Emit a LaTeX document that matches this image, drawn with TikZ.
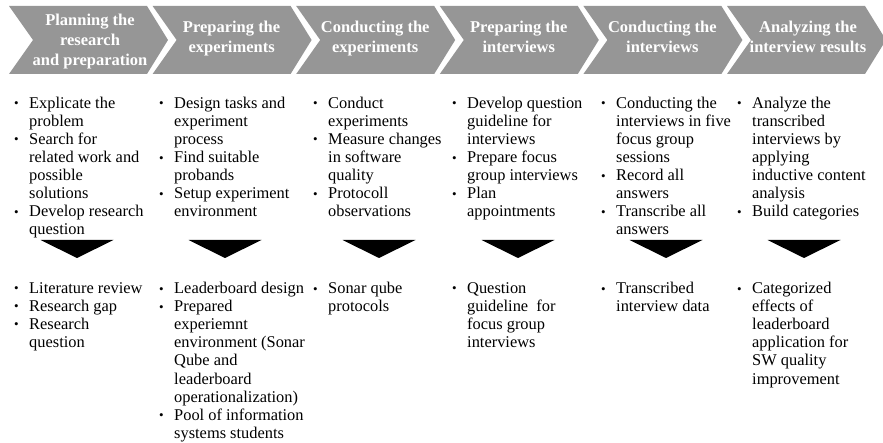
\documentclass[tikz,border=0pt]{standalone}
\usepackage{fontspec}
\setmainfont{Liberation Serif}
\definecolor{phasegray}{RGB}{150,150,150}
\newcommand{\bitem}{\llap{\raisebox{0.3pt}{\fontsize{13}{13}\selectfont\textbullet}\hspace{10.5pt}}}

\begin{document}
\begin{tikzpicture}[x=1pt,y=-1pt,
  phase/.style={text=white,font=\fontsize{16.5}{20}\selectfont\bfseries,align=center,anchor=north,inner sep=0pt},
  items/.style={font=\fontsize{16.4}{18.1}\selectfont,align=left,anchor=north west,inner sep=0pt}]
\useasboundingbox (0,0) rectangle (883,443);
\clip (0,0) rectangle (883,443);
% phase chevrons
\foreach \x in {9,152.6,296.2,439.8,583.4,727}
  \fill[phasegray] (\x,6) -- ++(138,0) -- ++(21,34) -- ++(-21,34) -- ++(-138,0) -- ++(24,-34) -- cycle;
% phase titles
\node[phase] (plan) at (90,13.8) {Planning the\\research\\and preparation};
\node[phase] (prepexp) at (231.6,21.3) {Preparing the\\experiments};
\node[phase] (condexp) at (375.2,21.3) {Conducting the\\experiments};
\node[phase] (prepint) at (518.8,21.3) {Preparing the\\interviews};
\node[phase] (condint) at (662.4,21.3) {Conducting the\\interviews};
\node[phase] (analyze) at (808,21.3) {Analyzing the\\interview results};
% activities
\node[items] (plantasks) at (29,96.5) {\bitem Explicate the\\problem\\\bitem Search for\\related work and\\possible\\solutions\\\bitem Develop research\\question};
\node[items] (prepexptasks) at (174,96.5) {\bitem Design tasks and\\experiment\\process\\\bitem Find suitable\\probands\\\bitem Setup experiment\\environment};
\node[items] (condexptasks) at (328,96.5) {\bitem Conduct\\experiments\\\bitem Measure changes\\in software\\quality\\\bitem Protocoll\\observations};
\node[items] (prepinttasks) at (467,96.5) {\bitem Develop question\\guideline for\\interviews\\\bitem Prepare focus\\group interviews\\\bitem Plan\\appointments};
\node[items] (condinttasks) at (616,96.5) {\bitem Conducting the\\interviews in five\\focus group\\sessions\\\bitem Record all\\answers\\\bitem Transcribe all\\answers};
\node[items] (analyzetasks) at (752,96.5) {\bitem Analyze the\\transcribed\\interviews by\\applying\\inductive content\\analysis\\\bitem Build categories};
% down arrows
\foreach \c in {77,225,379,518,666,804}
  \fill (\c-36.5,240) -- (\c+36.5,240) -- (\c,258) -- cycle;
% results
\node[items] (planres) at (29,282) {\bitem Literature review\\\bitem Research gap\\\bitem Research\\question};
\node[items] (prepexpres) at (174,282) {\bitem Leaderboard design\\\bitem Prepared\\experiemnt\\environment (Sonar\\Qube and\\leaderboard\\operationalization)\\\bitem Pool of information\\systems students};
\node[items] (condexpres) at (328,282) {\bitem Sonar qube\\protocols};
\node[items] (prepintres) at (467,282) {\bitem Question\\guideline\ \ for\\focus group\\interviews};
\node[items] (condintres) at (616,282) {\bitem Transcribed\\interview data};
\node[items] (analyzeres) at (752,282) {\bitem Categorized\\effects of\\leaderboard\\application for\\SW quality\\improvement};
\end{tikzpicture}
\end{document}
